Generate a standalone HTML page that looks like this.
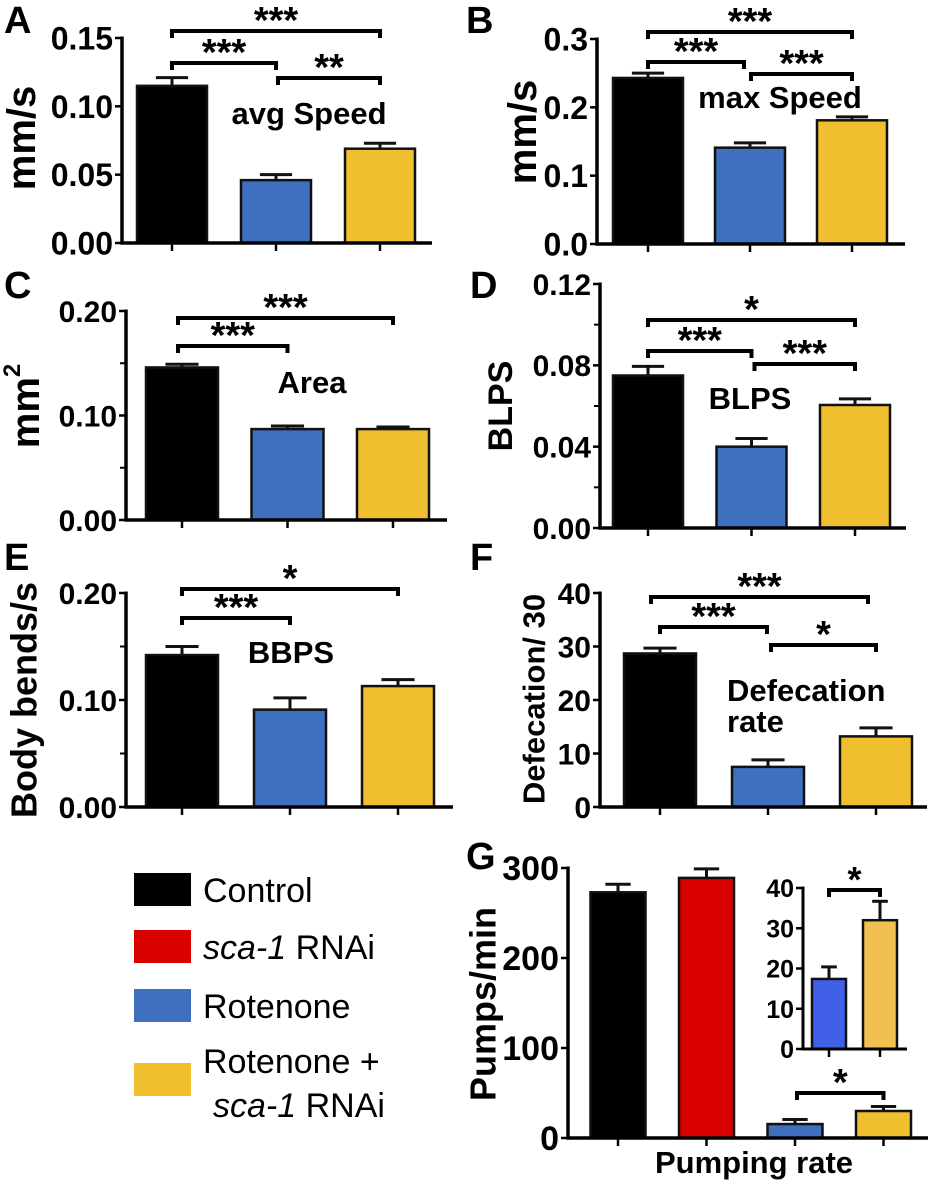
<!DOCTYPE html>
<html><head><meta charset="utf-8"><style>
html,body{margin:0;padding:0;background:#fff;}
svg{display:block;font-family:"Liberation Sans",Arial,sans-serif;}
</style></head><body>
<svg id="fig" width="931" height="1184" viewBox="0 0 931 1184">
<g font-weight="bold" font-size="38">
<text x="4" y="33">A</text>
<text x="466" y="33">B</text>
<text x="4" y="298">C</text>
<text x="470" y="298">D</text>
<text x="4" y="570">E</text>
<text x="470" y="570">F</text>
<text x="466" y="869">G</text>
</g>
<g font-size="34">
<rect x="134" y="873" width="57" height="33" fill="#000"/>
<text x="203" y="902">Control</text>
<rect x="134" y="930" width="57" height="33" fill="#d90000"/>
<text x="203" y="959"><tspan font-style="italic">sca-1</tspan> RNAi</text>
<rect x="134" y="989" width="57" height="33" fill="#3f6fbf"/>
<text x="203" y="1018">Rotenone</text>
<rect x="134" y="1063" width="57" height="33" fill="#f0bf2f"/>
<text x="203" y="1073">Rotenone +</text>
<text x="213" y="1117"><tspan font-style="italic">sca-1</tspan> RNAi</text>
</g>
</svg>
<script>
// ---- data ----
const aValues=[0.115,0.046,0.069]; const aErrors=[0.006,0.004,0.004]; const aTicks=["0.00","0.05","0.10","0.15"];
const bValues=[0.243,0.141,0.181]; const bErrors=[0.007,0.007,0.005]; const bTicks=["0.0","0.1","0.2","0.3"];
const cValues=[0.146,0.087,0.087]; const cErrors=[0.003,0.003,0.002]; const cTicks=["0.00","0.10","0.20"];
const dValues=[0.075,0.040,0.0605]; const dErrors=[0.0045,0.004,0.003]; const dTicks=["0.00","0.04","0.08","0.12"];
const eValues=[0.142,0.091,0.113]; const eErrors=[0.008,0.011,0.006]; const eTicks=["0.00","0.10","0.20"];
const fValues=[28.7,7.5,13.2]; const fErrors=[1.0,1.3,1.6]; const fTicks=["0","10","20","30","40"];
const gValues=[273,289,15.5,30]; const gErrors=[9,10,5,5]; const gTicks=["0","100","200","300"];
const insetValues=[17.4,32]; const insetErrors=[3,4.7]; const insetTicks=["0","10","20","30","40"];
const colors3=["#000000","#3f6fbf","#f0bf2f"];
const colors4=["#000000","#d90000","#3f6fbf","#f0bf2f"];
const insetColors=["#4060e8","#f0c050"];

const NS="http://www.w3.org/2000/svg";
const svg=document.getElementById('fig');
function mk(tag,attrs,parent){const e=document.createElementNS(NS,tag);for(const k in attrs)e.setAttribute(k,attrs[k]);(parent||svg).appendChild(e);return e;}

function panel(p){
  const g=mk('g',{});
  
  
  const max=p.max;
  const Y=v=>p.y0-(v/max)*(p.y0-p.yTop);
  const X=i=>p.first+i*p.step;
  p.values.forEach((v,i)=>{
    const x=X(i)-p.bw/2, y=Y(v);
    const eTop=Y(v+p.errors[i]);
    const cw=p.bw*0.46;
    const el=mk('line',{x1:X(i),x2:X(i),y1:y,y2:eTop,stroke:'#111','stroke-width':p.sw||3},g);
    
    
    const cap=mk('line',{x1:X(i)-cw/2,x2:X(i)+cw/2,y1:eTop,y2:eTop,stroke:'#111','stroke-width':p.sw||3},g);
    
    
    const r=mk('rect',{x:x,y:y,width:p.bw,height:p.y0-y,fill:p.colors[i],stroke:'#111','stroke-width':2.5},g);
    
    
  });
  const ya=mk('line',{x1:p.ax,x2:p.ax,y1:p.yTop-1.5,y2:p.y0+1.5,stroke:'#000','stroke-width':p.sw||3.5},g);
  
  
  const xa=mk('line',{x1:p.ax-1.5,x2:p.axEnd,y1:p.y0,y2:p.y0,stroke:'#000','stroke-width':p.sw||3.5},g);
  
  
  p.values.forEach((v,i)=>{
    const t=mk('line',{x1:X(i),x2:X(i),y1:p.y0,y2:p.y0+8,stroke:'#000','stroke-width':2.5},g);
    
    
  });
  const n=p.ticks.length-1;
  p.ticks.forEach((lab,i)=>{
    const v=max*i/n, y=Y(v);
    const t=mk('line',{x1:p.ax-7,x2:p.ax,y1:y,y2:y,stroke:'#000','stroke-width':2.5},g);
    
    
    const tx=mk('text',{x:p.ax-9,y:y+p.tfs*0.36,'text-anchor':'end','font-size':p.tfs,'font-weight':'bold'},g);
    tx.textContent=lab;
    
    
  });
  (p.minor||[]).forEach(v=>{
    const y=Y(v);
    const t=mk('line',{x1:p.ax-6,x2:p.ax,y1:y,y2:y,stroke:'#000','stroke-width':2},g);
    
    
  });
  (p.brackets||[]).forEach(b=>{
    const x1=X(b[0])+(b[3]||0), x2=X(b[1])+(b[4]||0), y=b[2];
    const d=mk('path',{d:`M${x1},${y+7}V${y}H${x2}V${y+7}`,fill:'none',stroke:'#000','stroke-width':p.bsw||4},g);
    
    
    const s=mk('text',{x:(x1+x2)/2,y:y+2,'text-anchor':'middle','font-size':p.sfs||38,'font-weight':'bold'},g);
    s.textContent=b[5];
    
    
  });
  if(p.ytitle){
    const t=mk('text',{x:0,y:0,transform:`translate(${p.ytitle.x},${p.ytitle.y}) rotate(-90)`,'text-anchor':'middle','font-size':p.ytitle.fs,'font-weight':'bold','dominant-baseline':'central'},g);
    if(p.ytitle.sup){t.textContent=p.ytitle.text;const ts=mk('tspan',{'baseline-shift':'super','font-size':p.ytitle.fs*0.6},t);ts.textContent=p.ytitle.sup;}
    else t.textContent=p.ytitle.text;
    
    
  }
  (p.notes||[]).forEach(nt=>{
    const t=mk('text',{x:nt.x,y:nt.y,'text-anchor':nt.anchor||'middle','font-size':31,'font-weight':'bold'},g);
    t.textContent=nt.text;
    
    
  });
}

panel({name:'panel-a-avg-speed',values:aValues,errors:aErrors,ticks:aTicks,colors:colors3,max:0.15,y0:243,yTop:38,ax:122,axEnd:432,first:172,step:104,bw:70,tfs:32,
  brackets:[[0,2,31,0,0,'***'],[0,1,63,0,0,'***'],[1,2,78,2,0,'**']],
  ytitle:{text:'mm/s',x:22,y:138,fs:40},notes:[{text:'avg Speed',x:309,y:124}]});
panel({name:'panel-b-max-speed',values:bValues,errors:bErrors,ticks:bTicks,colors:colors3,max:0.3,y0:244,yTop:39,ax:597,axEnd:905,first:648,step:102,bw:70,tfs:32,
  brackets:[[0,2,32,0,0,'***'],[0,1,62,0,-6,'***'],[1,2,74,1,0,'***']],
  ytitle:{text:'mm/s',x:523,y:132,fs:40},notes:[{text:'max Speed',x:780,y:108}]});
panel({name:'panel-c-area',values:cValues,errors:cErrors,ticks:cTicks,colors:colors3,max:0.2,y0:520,yTop:311,ax:126,axEnd:447,first:182,step:105.5,bw:72,tfs:30,minor:[0.05,0.15],
  brackets:[[0,2,318,-4,0,'***'],[0,1,346,-4,0,'***']],
  ytitle:{text:'mm',sup:'2',x:26,y:406,fs:40},notes:[{text:'Area',x:312,y:393}]});
panel({name:'panel-d-blps',values:dValues,errors:dErrors,ticks:dTicks,colors:colors3,max:0.12,y0:528,yTop:284,ax:600,axEnd:906,first:648,step:103.5,bw:70,tfs:30,minor:[0.02,0.06,0.1],
  brackets:[[0,2,320,0,0,'*'],[0,1,351,0,0,'***'],[1,2,364,3,0,'***']],
  ytitle:{text:'BLPS',x:501,y:406,fs:34},notes:[{text:'BLPS',x:750,y:409}]});
panel({name:'panel-e-bbps',values:eValues,errors:eErrors,ticks:eTicks,colors:colors3,max:0.2,y0:807,yTop:593,ax:126,axEnd:453,first:182,step:108,bw:72,tfs:30,minor:[0.05,0.15],
  brackets:[[0,2,589,0,0,'*'],[0,1,618,0,0,'***']],
  ytitle:{text:'Body bends/s',x:24,y:700,fs:36},notes:[{text:'BBPS',x:291,y:663}]});
panel({name:'panel-f-defecation',values:fValues,errors:fErrors,ticks:fTicks,colors:colors3,max:40,y0:807,yTop:593,ax:600,axEnd:927,first:660,step:108,bw:72,tfs:30,
  brackets:[[0,2,597,-9,-8,'***'],[0,1,627,0,-1,'***'],[1,2,645,3,0,'*']],
  ytitle:{text:'Defecation/ 30',x:534,y:699,fs:31},notes:[{text:'Defecation',x:727,y:701,anchor:'start'},{text:'rate',x:727,y:732,anchor:'start'}]});
panel({name:'panel-g-pumping-rate',values:gValues,errors:gErrors,ticks:gTicks,colors:colors4,max:300,y0:1138,yTop:868,ax:568,axEnd:928,first:618,step:88.5,bw:55,tfs:34,
  brackets:[[2,3,1093,2,0,'*']],
  ytitle:{text:'Pumps/min',x:483,y:1004,fs:36},notes:[{text:'Pumping rate',x:754,y:1173}]});
panel({name:'panel-g-inset',values:insetValues,errors:insetErrors,ticks:insetTicks,colors:insetColors,max:40,y0:1049,yTop:888,ax:803,axEnd:907,first:829,step:51,bw:34,tfs:25,sw:3,bsw:4,sfs:36,
  brackets:[[0,1,890,0,0,'*']]});
</script>
</body></html>
